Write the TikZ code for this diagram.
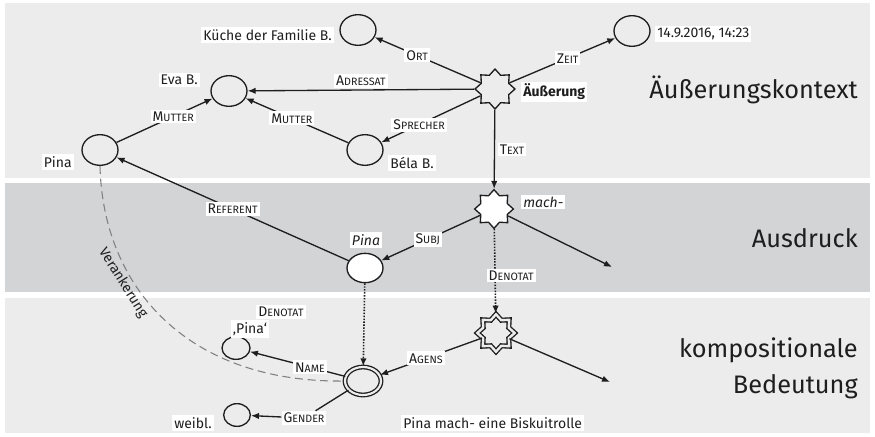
\documentclass[tikz,border=0pt]{standalone}
\usepackage{fontspec}
\setmainfont{Fira Sans}
\usetikzlibrary{shapes.geometric,arrows.meta}

\definecolor{hellgrau}{RGB}{236,236,236}
\definecolor{dunkelgrau}{RGB}{211,212,214}
\definecolor{ankergrau}{RGB}{128,128,128}
\definecolor{tinte}{RGB}{30,30,30}

% Rollennamen in Kapitaelchen
\newcommand{\rol}[2]{#1{\fontsize{8}{9}\selectfont #2}}

\tikzset{
  rel/.style={draw=tinte, line width=1pt, -{Latex[length=6pt,width=4.8pt]}},
  denot/.style={rel, line width=1.2pt, dash pattern=on 1.1pt off 1.1pt},
  anker/.style={draw=ankergrau, line width=0.8pt, dash pattern=on 6pt off 3.5pt},
  lab/.style={fill=white, text=tinte, inner sep=1.5pt, font=\fontsize{10.5}{12}\selectfont},
  txt/.style={fill=white, text=tinte, inner sep=1.5pt, font=\fontsize{10.5}{12}\selectfont},
  ent/.style={draw=tinte, ellipse, line width=1pt, minimum width=27pt, minimum height=23pt, inner sep=0pt},
  entk/.style={ent, minimum width=21pt, minimum height=17pt},
  ev/.style={draw=tinte, star, star points=8, star point ratio=1.35, line width=1pt, minimum size=30pt, inner sep=0pt},
  ebene/.style={text=tinte, inner sep=0pt, anchor=east, font=\fontsize{19}{22}\selectfont},
}

\begin{document}
\begin{tikzpicture}[x=0.75pt,y=0.75pt,yscale=-1,xscale=1]
\useasboundingbox (0,0) rectangle (875,436);

% Ebenen
\fill[hellgrau] (5,3) rectangle (870,178);
\fill[dunkelgrau] (5,183) rectangle (870,292);
\fill[hellgrau] (5,298) rectangle (870,433);

% Text Node
\node[ebene] (kontext) at (858,90) {Äußerungskontext};
\node[ebene] (ausdruck) at (858,238) {Ausdruck};
\node[ebene] (kompos) at (858,350) {kompositionale};
\node[ebene] (bedeutung) at (858,387) {Bedeutung};

% Aeusserungskontext
\node[ev] (aeu) at (495,89) {};
\node[ent] (kueche) at (358,30) {};
\node[ent] (zeit) at (632,31) {};
\node[ent] (eva) at (229,91) {};
\node[ent] (pina) at (100,150) {};
\node[ent] (bela) at (365,150) {};

% Text Node
\node[txt, anchor=west] (aeut) at (521,92) {\textbf{Äußerung}};
\node[txt, anchor=east] (kuechet) at (334,35) {Küche der Familie B.};
\node[txt, anchor=west] (zeitt) at (655,34) {14.9.2016, 14:23\hspace{8pt}};
\node[txt, anchor=east] (evat) at (200,80) {Eva B.};
\node[txt, anchor=east] (pinat) at (74,162) {Pina};
\node[txt, anchor=west] (belat) at (388,163) {Béla B.};

% Ausdruck
\node[ev, fill=white, minimum size=29pt] (mach) at (494,209) {};
\node[ent, fill=white, minimum height=22pt] (mpina) at (365,268) {};
\coordinate (machend) at (612,267);

% Text Node
\node[txt, anchor=west] (macht) at (521,202) {\itshape mach-};
\node[txt] (mpinat) at (366,240) {\itshape Pina};

% kompositionale Bedeutung
\node[ev, minimum size=28pt, double=hellgrau, double distance=1.8pt] (dstar) at (496,333) {};
\node[ent, minimum width=27pt, minimum height=21pt, double=hellgrau, double distance=1.6pt] (dkreis) at (363,381) {};
\node[entk] (qpina) at (236,348) {};
\node[entk, minimum width=20pt] (weibl) at (237,415) {};
\coordinate (dstarend) at (610,382);

% Text Node
\node[txt] (qpinat) at (250,329) {‚Pina‘};
\node[txt, anchor=east] (weiblt) at (214,423) {weibl.};
\node[txt, anchor=west] (satz) at (401,423) {Pina mach- eine Biskuitrolle};

%Straight Lines
\draw[rel] (aeu) -- node[lab, pos=0.6] (ort) {\rol{O}{RT}} (kueche);
\draw[rel] (aeu) -- node[lab, pos=0.55] (zeitl) {\rol{Z}{EIT}} (zeit);
\draw[rel] (aeu) -- node[lab, above=1pt] (adressat) {\rol{A}{DRESSAT}} (eva);
\draw[rel] (aeu) -- node[lab, pos=0.62] (sprecher) {\rol{S}{PRECHER}} (bela);
\draw[rel] (aeu) -- node[lab, right=2pt] (textl) {\rol{T}{EXT}} (mach);
\draw[rel] (pina) -- node[lab, pos=0.59] (mutterl) {\rol{M}{UTTER}} (eva);
\draw[rel] (bela) -- node[lab, pos=0.55] (mutterr) {\rol{M}{UTTER}} (eva);

\draw[rel] (mpina) -- node[lab] (referent) {\rol{R}{EFERENT}} (pina);
\draw[rel] (mach) -- node[lab, pos=0.53] (subj) {\rol{S}{UBJ}} (mpina);
\draw[rel] (mach) -- (machend);
\draw[denot] (mach) -- node[lab, pos=0.55, anchor=west, xshift=-7pt] (denr) {\rol{D}{ENOTAT}} (dstar);

\node[lab] (denl) at (281,312) {\rol{D}{ENOTAT}};
\draw[denot] (mpina) -- (dkreis);

\draw[rel] (dstar) -- node[lab, pos=0.55] (agens) {\rol{A}{GENS}} (dkreis);
\draw[rel] (dstar) -- (dstarend);
\draw[rel] (dkreis) -- node[lab, pos=0.37] (namel) {\rol{N}{AME}} (qpina);
\node[lab] (gender) at (304,418) {\rol{G}{ENDER}};
\draw[rel] (dkreis) -- (gender) -- (weibl);

% Verankerung
\draw[anker] (pina.south) .. controls (103,290) and (190,383) .. (dkreis.west);
\node[text=tinte, rotate=-58, inner sep=0pt, font=\fontsize{10.5}{12}\selectfont] (verank) at (123,283) {Verankerung};

\end{tikzpicture}
\end{document}
